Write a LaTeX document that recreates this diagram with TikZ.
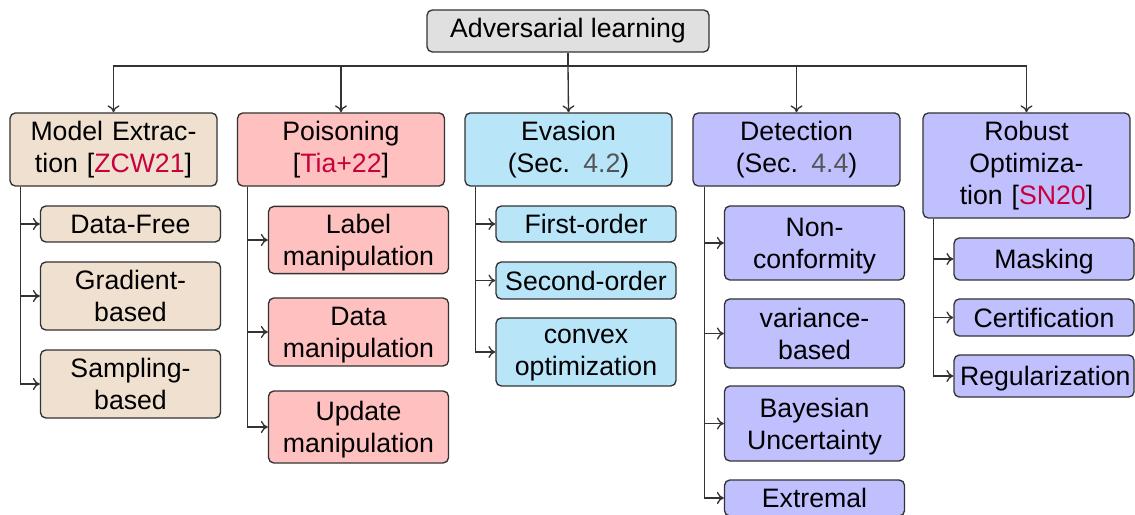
\documentclass[tikz,border=0pt]{standalone}
\usepackage{fontspec}
\setmainfont{Liberation Sans}
\usepackage{tikz}
\usetikzlibrary{arrows.meta}

\definecolor{rootgray}{RGB}{224,224,224}
\definecolor{tanfill}{RGB}{239,224,208}
\definecolor{pinkfill}{RGB}{255,192,192}
\definecolor{skyfill}{RGB}{185,229,248}
\definecolor{lavfill}{RGB}{192,192,255}
\definecolor{citered}{RGB}{200,0,60}
\definecolor{secgray}{RGB}{85,85,85}
\newcommand{\citeref}[1]{[\textcolor{citered}{#1}]}
\newcommand{\secnum}[1]{\textcolor{secgray}{#1}}

\tikzset{
  box/.style={draw=black!80, line width=0.5pt, rounded corners=2pt, align=center,
    font=\fontsize{10}{12}\selectfont, inner ysep=1pt},
  topbox/.style={box, fill=rootgray, minimum width=105.75pt, minimum height=15.75pt},
  catbox/.style={box, text width=72pt, inner xsep=2.8pt},
  leafbox/.style={box, text width=63pt, inner xsep=2.25pt,
    execute at end node={\par\kern-\prevdepth}},
  link/.style={draw=black!80, line width=0.5pt, -{To[length=2.6pt,width=4.5pt]}},
  trunk/.style={draw=black!80, line width=0.5pt}
}

\begin{document}
\begin{tikzpicture}[x=0.375pt, y=-0.375pt]
    \useasboundingbox (0,0) rectangle (1135,515);
    \clip (0,0) rectangle (1135,515);
    % Root and the five branches
        \node[topbox] (root) at (568,31) {Adversarial learning};
        \node[catbox, fill=tanfill, minimum height=27.4pt] (me) at (113.5,149.5) {Model Extrac-\\tion \citeref{ZCW21}};
        \node[catbox, fill=pinkfill, minimum height=27.4pt] (po) at (341,149.5) {Poisoning\\\citeref{Tia+22}};
        \node[catbox, fill=skyfill, minimum height=27.4pt] (ev) at (568.5,149.5) {Evasion\\(Sec. \secnum{4.2})};
        \node[catbox, fill=lavfill, minimum height=27.4pt] (de) at (796.5,149.5) {Detection\\(Sec. \secnum{4.4})};
        \node[catbox, fill=lavfill, minimum height=39.4pt] (ro) at (1026.5,165.5) {Robust\\Optimiza-\\tion \citeref{SN20}};
        % Leaves under Model Extraction
        \node[leafbox, fill=tanfill, minimum height=13.5pt] (df) at (130.5,224) {Data-Free};
        \node[leafbox, fill=tanfill, minimum height=25.5pt] (gb) at (130.5,296) {Gradient-\\based};
        \node[leafbox, fill=tanfill, minimum height=25.5pt] (sb) at (130.5,384) {Sampling-\\based};
        % Leaves under Poisoning
        \node[leafbox, fill=pinkfill, minimum height=25.2pt] (lm) at (358.5,240) {Label\\manipulation};
        \node[leafbox, fill=pinkfill, minimum height=25.5pt] (dm) at (358.5,332) {Data\\manipulation};
        \node[leafbox, fill=pinkfill, minimum height=27pt] (um) at (358.5,427) {Update\\manipulation};
        % Leaves under Evasion
        \node[leafbox, fill=skyfill, minimum height=13.5pt] (fo) at (586,224) {First-order};
        \node[leafbox, fill=skyfill, minimum height=13.9pt] (so) at (586,280.5) {Second-order};
        \node[leafbox, fill=skyfill, minimum height=25.5pt] (co) at (586,352) {convex\\optimization};
        % Leaves under Detection
        \node[leafbox, fill=lavfill, minimum height=27.75pt] (nc) at (814.5,243) {Non-\\conformity};
        \node[leafbox, fill=lavfill, minimum height=25.9pt] (vb) at (814.5,333.5) {variance-\\based};
        \node[leafbox, fill=lavfill, minimum height=28.1pt] (bu) at (814.5,423.5) {Bayesian\\Uncertainty};
        \node[leafbox, fill=lavfill, minimum height=13.5pt] (ex) at (814.5,498) {Extremal};
        % Leaves under Robust Optimization
        \node[leafbox, fill=lavfill, minimum height=15.75pt] (ma) at (1044,259) {Masking};
        \node[leafbox, fill=lavfill, minimum height=13.9pt] (ce) at (1044,317.5) {Certification};
        \node[leafbox, fill=lavfill, minimum height=15.75pt] (rg) at (1044,376) {Regularization};
        % Arrows from the root
        \coordinate (hub) at (568,66);
        \draw[trunk] (root.south) -- (hub);
        \draw[link] (hub) -| (me.north);
        \draw[link] (hub) -| (po.north);
        \draw[link] (hub) -- (ev.north);
        \draw[link] (hub) -| (de.north);
        \draw[link] (hub) -| (ro.north);
        % Arrows from each branch to its leaves
        \draw[link] ([xshift=4.1pt]me.south west) |- (df.west);
        \draw[link] ([xshift=4.1pt]me.south west) |- (gb.west);
        \draw[link] ([xshift=4.1pt]me.south west) |- (sb.west);
        \draw[link] ([xshift=4.1pt]po.south west) |- (lm.west);
        \draw[link] ([xshift=4.1pt]po.south west) |- (dm.west);
        \draw[link] ([xshift=4.1pt]po.south west) |- (um.west);
        \draw[link] ([xshift=4.1pt]ev.south west) |- (fo.west);
        \draw[link] ([xshift=4.1pt]ev.south west) |- (so.west);
        \draw[link] ([xshift=4.1pt]ev.south west) |- (co.west);
        \draw[link] ([xshift=4.5pt]de.south west) |- (nc.west);
        \draw[link] ([xshift=4.5pt]de.south west) |- (vb.west);
        \draw[link] ([xshift=4.5pt]de.south west) |- (bu.west);
        \draw[link] ([xshift=4.5pt]de.south west) |- (ex.west);
        \draw[link] ([xshift=4.1pt]ro.south west) |- (ma.west);
        \draw[link] ([xshift=4.1pt]ro.south west) |- (ce.west);
        \draw[link] ([xshift=4.1pt]ro.south west) |- (rg.west);
\end{tikzpicture}
\end{document}
